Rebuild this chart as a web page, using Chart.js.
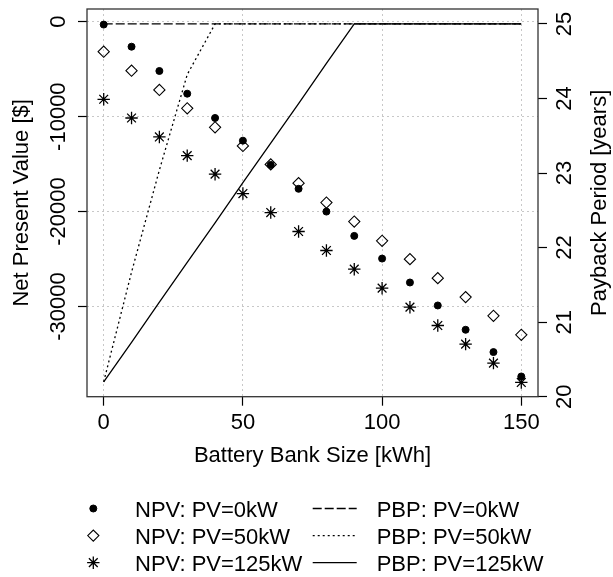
<!DOCTYPE html>
<html>
<head>
<meta charset="utf-8">
<title>NPV and payback period vs battery bank size</title>
<script src="https://cdn.jsdelivr.net/npm/chart.js"></script>
<style>
  body { margin: 0; background: #fff; }
  #js--chart { display: block; }
</style>
</head>
<body>
<canvas id="js--chart" width="613" height="577"></canvas>
<script>
// battery bank sizes [kWh]
const batterySize = [0, 10, 20, 30, 40, 50, 60, 70, 80, 90, 100, 110, 120, 130, 140, 150];

// net present value [$]
const npvPv0 = [-300, -2630, -5190, -7580, -10140, -12530, -15080, -17600, -20000, -22560, -24950, -27470, -29890, -32450, -34800, -37370];
const npvPv50 = [-3160, -5160, -7190, -9120, -11120, -13090, -15030, -17010, -19050, -21050, -23080, -25010, -27010, -29010, -30980, -32980];
const npvPv125 = [-8170, -10140, -12140, -14110, -16060, -18100, -20100, -22100, -24100, -26070, -28070, -30070, -32000, -33960, -35960, -38000];

// payback period [years]
const pbpPv0 = [25, 25, 25, 25, 25, 25, 25, 25, 25, 25, 25, 25, 25, 25, 25, 25];
const pbpPv50 = [20.2, 21.67, 23.04, 24.32, 25, 25, 25, 25, 25, 25, 25, 25, 25, 25, 25, 25];
const pbpPv125 = [20.2, 20.73, 21.27, 21.8, 22.33, 22.87, 23.4, 23.93, 24.47, 25, 25, 25, 25, 25, 25, 25];

// axis ticks
const xTicks = [0, 50, 100, 150];
const npvTicks = [0, -10000, -20000, -30000];
const pbpTicks = [20, 21, 22, 23, 24, 25];

const seriesLabels = ['NPV: PV=0kW', 'NPV: PV=50kW', 'NPV: PV=125kW', 'PBP: PV=0kW', 'PBP: PV=50kW', 'PBP: PV=125kW'];

const FONT = "'Liberation Sans', Arial, Helvetica, sans-serif";
const FONT_SIZE = 22;
const INK = '#000';
const GRID = '#c8c8c8';

Chart.defaults.font.family = FONT;
Chart.defaults.font.size = FONT_SIZE;
Chart.defaults.color = INK;

function toPoints(ys) {
  return batterySize.map((x, i) => ({ x: x, y: ys[i] }));
}

function npvSet(label, ys, style, radius, fill, width) {
  return {
    label: label,
    data: toPoints(ys),
    yAxisID: 'y',
    showLine: false,
    pointStyle: style,
    pointRadius: radius,
    pointBackgroundColor: fill,
    pointBorderColor: INK,
    pointBorderWidth: width,
    borderColor: INK,
    backgroundColor: fill
  };
}

function pbpSet(label, ys, dash) {
  return {
    label: label,
    data: toPoints(ys),
    yAxisID: 'y1',
    showLine: true,
    pointRadius: 0,
    borderColor: INK,
    borderWidth: 1.3,
    borderDash: dash,
    tension: 0,
    fill: false
  };
}

const datasets = [
  npvSet(seriesLabels[0], npvPv0, 'circle', 3.5, INK, 1),
  npvSet(seriesLabels[1], npvPv50, 'rectRot', 5.6, 'rgba(0,0,0,0)', 1.1),
  npvSet(seriesLabels[2], npvPv125, 'star', 6.2, 'rgba(0,0,0,0)', 1.3),
  pbpSet(seriesLabels[3], pbpPv0, [9, 3]),
  pbpSet(seriesLabels[4], pbpPv50, [2, 3]),
  pbpSet(seriesLabels[5], pbpPv125, [])
];

const gridOpts = {
  color: GRID,
  lineWidth: 1,
  drawTicks: true,
  tickLength: 9,
  tickColor: INK,
  tickWidth: 1.2,
  tickBorderDash: []
};

// box, rotated y labels, right title and the legend block below the plot
const baseStyle = {
  id: 'baseStyle',
  afterDatasetsDraw(chart) {
    const ctx = chart.ctx;
    const area = chart.chartArea;
    const yL = chart.scales.y;
    const yR = chart.scales.y1;

    ctx.save();
    ctx.strokeStyle = '#333';
    ctx.lineWidth = 1.3;
    ctx.setLineDash([]);
    ctx.strokeRect(area.left, area.top, area.right - area.left, area.bottom - area.top);

    ctx.fillStyle = INK;
    ctx.font = FONT_SIZE + 'px ' + FONT;
    ctx.textAlign = 'center';
    ctx.textBaseline = 'middle';

    const rotText = (text, x, y) => {
      ctx.save();
      ctx.translate(x, y);
      ctx.rotate(-Math.PI / 2);
      ctx.fillText(text, 0, 0);
      ctx.restore();
    };

    npvTicks.forEach(v => rotText(String(v), area.left - 27.6, yL.getPixelForValue(v)));
    pbpTicks.forEach(v => rotText(String(v), area.right + 27.4, yR.getPixelForValue(v)));
    rotText('Payback Period [years]', area.right + 61.5, (area.top + area.bottom) / 2);

    // legend: points on the left column, lines on the right column
    const rowY = [508.5, 535.6, 562.7];
    const symX = 93.3;
    const text1X = 135;
    const lineX1 = 312.7;
    const lineX2 = 356.7;
    const text2X = 376.7;

    ctx.textAlign = 'left';
    for (let i = 0; i < 3; i++) {
      const ds = datasets[i];
      ctx.fillStyle = ds.pointBackgroundColor;
      ctx.strokeStyle = ds.pointBorderColor;
      ctx.lineWidth = ds.pointBorderWidth;
      Chart.helpers.drawPoint(ctx, {
        pointStyle: ds.pointStyle,
        radius: ds.pointRadius,
        borderWidth: ds.pointBorderWidth,
        rotation: 0
      }, symX, rowY[i]);
      ctx.fillStyle = INK;
      ctx.fillText(ds.label, text1X, rowY[i] + 2.2);

      const ln = datasets[i + 3];
      ctx.strokeStyle = ln.borderColor;
      ctx.lineWidth = ln.borderWidth;
      ctx.setLineDash(ln.borderDash);
      ctx.beginPath();
      ctx.moveTo(lineX1, rowY[i]);
      ctx.lineTo(lineX2, rowY[i]);
      ctx.stroke();
      ctx.setLineDash([]);
      ctx.fillText(ln.label, text2X, rowY[i] + 2.2);
    }
    ctx.restore();
  }
};

const config = {
  type: 'scatter',
  data: { datasets: datasets },
  options: {
    responsive: false,
    animation: false,
    events: [],
    layout: { padding: { top: 9, left: 0, right: 0, bottom: 0 } },
    plugins: {
      legend: { display: false },
      tooltip: { enabled: false }
    },
    scales: {
      x: {
        type: 'linear',
        position: 'bottom',
        min: -6,
        max: 156,
        afterBuildTicks: s => { s.ticks = xTicks.map(v => ({ value: v })); },
        afterFit: s => { s.height = 180.3; },
        grid: gridOpts,
        border: { display: false, dash: [2, 3] },
        ticks: { color: INK, padding: 4, maxRotation: 0, minRotation: 0, autoSkip: false },
        title: {
          display: true,
          text: 'Battery Bank Size [kWh]',
          color: INK,
          padding: { top: 0, bottom: 107.5 }
        }
      },
      y: {
        type: 'linear',
        position: 'left',
        min: -39500,
        max: 1340,
        afterBuildTicks: s => { s.ticks = npvTicks.map(v => ({ value: v })); },
        afterFit: s => { s.width = 87; },
        grid: gridOpts,
        border: { display: false, dash: [2, 3] },
        ticks: { display: false },
        title: {
          display: true,
          text: 'Net Present Value [$]',
          color: INK,
          padding: { top: 8.3, bottom: 0 }
        }
      },
      y1: {
        type: 'linear',
        position: 'right',
        min: 20,
        max: 25.2,
        afterBuildTicks: s => { s.ticks = pbpTicks.map(v => ({ value: v })); },
        afterFit: s => { s.width = 75; },
        grid: Object.assign({}, gridOpts, { drawOnChartArea: false }),
        border: { display: false },
        ticks: { display: false }
      }
    }
  },
  plugins: [baseStyle]
};

const chart1 = new Chart(document.getElementById('js--chart'), config);
</script>
</body>
</html>
